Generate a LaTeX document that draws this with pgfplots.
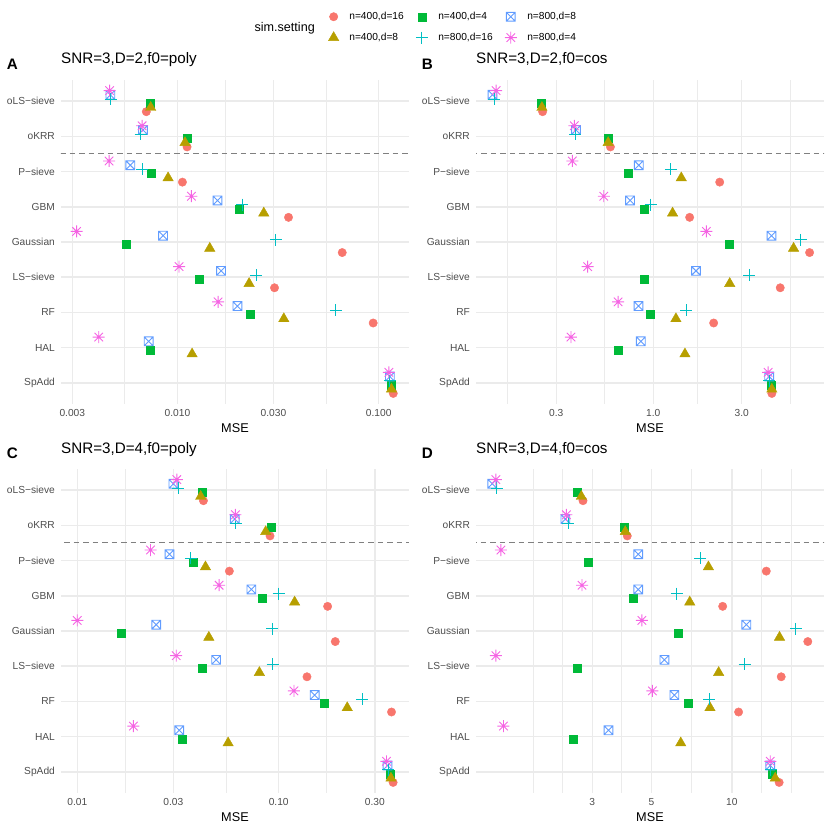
\documentclass[border=0pt]{standalone}
\usepackage{fontspec}
\setmainfont{Liberation Sans}
\usepackage{pgfplots}
\usepackage{pgfplotstable}
\pgfplotsset{compat=1.18}

\definecolor{c1}{HTML}{F8766D}
\definecolor{c2}{HTML}{B79F00}
\definecolor{c3}{HTML}{00BA38}
\definecolor{c4}{HTML}{00BFC4}
\definecolor{c5}{HTML}{619CFF}
\definecolor{c6}{HTML}{F564E3}
\definecolor{gridc}{HTML}{EBEBEB}
\definecolor{txt}{HTML}{4D4D4D}

% ggplot shape 7 (square with x) and shape 8 (eight-arm asterisk)
\pgfdeclareplotmark{boxx}{%
  \pgfpathrectangle{\pgfpoint{-\pgfplotmarksize}{-\pgfplotmarksize}}{\pgfpoint{2\pgfplotmarksize}{2\pgfplotmarksize}}%
  \pgfpathmoveto{\pgfpoint{-\pgfplotmarksize}{-\pgfplotmarksize}}\pgfpathlineto{\pgfpoint{\pgfplotmarksize}{\pgfplotmarksize}}%
  \pgfpathmoveto{\pgfpoint{-\pgfplotmarksize}{\pgfplotmarksize}}\pgfpathlineto{\pgfpoint{\pgfplotmarksize}{-\pgfplotmarksize}}%
  \pgfusepathqstroke}
\pgfdeclareplotmark{ast8}{%
  \pgfpathmoveto{\pgfpointpolar{0}{\pgfplotmarksize}}\pgfpathlineto{\pgfpointpolar{180}{\pgfplotmarksize}}%
  \pgfpathmoveto{\pgfpointpolar{90}{\pgfplotmarksize}}\pgfpathlineto{\pgfpointpolar{270}{\pgfplotmarksize}}%
  \pgfpathmoveto{\pgfpointpolar{45}{\pgfplotmarksize}}\pgfpathlineto{\pgfpointpolar{225}{\pgfplotmarksize}}%
  \pgfpathmoveto{\pgfpointpolar{135}{\pgfplotmarksize}}\pgfpathlineto{\pgfpointpolar{315}{\pgfplotmarksize}}%
  \pgfusepathqstroke}

% columns: m = method row; a n=400,d=16; b n=400,d=8; c n=400,d=4; d n=800,d=16; e n=800,d=8; f n=800,d=4
\pgfplotstableread{
m a b c d e f
1 0.0070 0.00736 0.00728 0.00465 0.00464 0.0046
2 0.01116 0.0109 0.0112 0.00656 0.00674 0.00667
3 0.01058 0.00898 0.00742 0.00667 0.00583 0.00457
4 0.03564 0.02685 0.02025 0.02103 0.0158 0.01173
5 0.0659 0.01447 0.00559 0.0308 0.00848 0.00315
6 0.03036 0.0227 0.0128 0.0247 0.01647 0.01018
7 0.0939 0.03377 0.02304 0.0613 0.01986 0.01591
8 nan 0.01182 0.00728 nan 0.00719 0.00406
9 0.1182 0.1158 0.1158 0.1137 0.1137 0.1124
}\dataA
\pgfplotstableread{
m a b c d e f
1 0.2531 0.251 0.2489 0.1392 0.1358 0.1422
2 0.5875 0.571 0.5685 0.380 0.383 0.3753
3 2.282 1.416 0.732 1.245 0.836 0.366
4 1.571 1.271 0.893 0.967 0.750 0.541
5 6.966 5.709 2.574 6.25 4.341 1.933
6 4.837 2.584 0.890 3.30 1.70 0.443
7 2.117 1.325 0.962 1.507 0.8326 0.646
8 nan 1.482 0.649 nan 0.857 0.360
9 4.359 4.359 4.305 4.216 4.216 4.164
}\dataB
\pgfplotstableread{
m a b c d e f
1 0.0423 0.0410 0.0415 0.0318 0.0300 0.0312
2 0.0906 0.0862 0.0923 0.0612 0.0605 0.0610
3 0.0569 0.0433 0.0375 0.0366 0.0287 0.0231
4 0.175 0.120 0.0824 0.100 0.0732 0.0506
5 0.191 0.0450 0.01646 0.0927 0.02465 0.0100
6 0.1382 0.0802 0.0415 0.0934 0.0489 0.0310
7 0.3633 0.219 0.1678 0.260 0.1509 0.1191
8 nan 0.0561 0.0332 nan 0.0321 0.0190
9 0.370 0.361 0.357 0.350 0.347 0.343
}\dataC
\pgfplotstableread{
m a b c d e f
1 2.768 2.729 2.644 1.313 1.265 1.305
2 4.056 3.987 3.942 2.433 2.378 2.399
3 13.46 8.17 2.907 7.62 4.458 1.363
4 9.24 6.955 4.257 6.22 4.458 2.745
5 19.26 15.09 6.27 17.36 11.33 4.60
6 15.31 8.925 2.644 11.17 5.59 1.305
7 10.6 8.28 6.876 8.24 6.09 5.04
8 nan 6.435 2.54 nan 3.45 1.394
9 15.04 14.54 14.21 14.0 13.93 13.93
}\dataD

\pgfplotsset{every axis/.append style={
    scale only axis, width=348pt, height=324pt,
    y dir=reverse, ymin=0.4, ymax=9.6,
    ytick={1,2,3,4,5,6,7,8,9},
    yticklabels={oLS−sieve,oKRR,P−sieve,GBM,Gaussian,LS−sieve,RF,HAL,SpAdd},
    axis line style={draw=none}, tick style={draw=none},
    major tick length=0pt, minor tick length=0pt,
    xmajorgrids, ymajorgrids, xminorgrids,
    major grid style={color=gridc, line width=1.5pt},
    minor grid style={color=gridc, line width=0.9pt},
    tick label style={color=txt, font=\fontsize{10.2}{12}\selectfont},
    xticklabel style={yshift=-1.6pt}, yticklabel style={xshift=-2.6pt},
    xlabel={MSE},
    xlabel style={font=\fontsize{12.7}{15}\selectfont, at={(0.5,0)}, anchor=base, yshift=-28.3pt},
    title style={font=\fontsize{15.2}{18}\selectfont, at={(0,1)}, anchor=base west, inner sep=0pt, yshift=10pt},
}}

\newcommand{\sixseries}[1]{%
  \addplot[forget plot, color=gray, line width=1pt, dash pattern=on 5.5pt off 4pt] coordinates {(1e-4,2.5) (1e3,2.5)};
  \addplot[only marks, mark=*, color=c1, mark size=4.2pt] table[x=a, y expr=\thisrow{m}+0.3]{#1};
  \addplot[only marks, mark=square*, color=c3, mark size=4pt] table[x=c, y expr=\thisrow{m}+0.06]{#1};
  \addplot[only marks, mark=boxx, color=c5, mark size=4.4pt, mark options={line width=0.9pt}] table[x=e, y expr=\thisrow{m}-0.18]{#1};
  \addplot[only marks, mark=triangle*, color=c2, mark size=6pt] table[x=b, y expr=\thisrow{m}+0.18]{#1};
  \addplot[only marks, mark=+, color=c4, mark size=6pt, mark options={line width=0.9pt}] table[x=d, y expr=\thisrow{m}-0.06]{#1};
  \addplot[only marks, mark=ast8, color=c6, mark size=6pt, mark options={line width=0.9pt}] table[x=f, y expr=\thisrow{m}-0.3]{#1};
}

\begin{document}
\begin{tikzpicture}
\draw[white, line width=0pt] (0pt,0pt) rectangle (830pt,830pt);

\begin{axis}[xmode=log, at={(61pt,426pt)}, anchor=south west,
  title={SNR=3,D=2,f0=poly},
  xmin=0.002636, xmax=0.1415,
  xtick={0.003,0.01,0.03,0.1}, xticklabels={0.003,0.010,0.030,0.100},
  minor xtick={0.005477,0.01732,0.05477},
  legend columns=3,
  legend cell align=left,
  legend style={draw=none, fill=none, inner sep=0pt,
    at={(0.768,1.1630)}, anchor=west,
    font=\fontsize{10.2}{12}\selectfont,
    /tikz/every odd column/.append style={column sep=8.5pt},
    /tikz/every even column/.append style={column sep=10pt},
    row sep=8pt},
]
\sixseries{\dataA}
\legend{{n=400,d=16},{n=400,d=4},{n=800,d=8},{n=400,d=8},{n=800,d=16},{n=800,d=4}}
\end{axis}

\begin{axis}[xmode=log, at={(476pt,426pt)}, anchor=south west,
  title={SNR=3,D=2,f0=cos},
  xmin=0.1107, xmax=8.33,
  xtick={0.3,1,3}, xticklabels={0.3,1.0,3.0},
  minor xtick={0.164,0.5477,1.732,5.477},
]
\sixseries{\dataB}
\end{axis}

\begin{axis}[xmode=log, at={(61pt,37pt)}, anchor=south west,
  title={SNR=3,D=4,f0=poly},
  xmin=0.0083, xmax=0.4437,
  xtick={0.01,0.03,0.1,0.3}, xticklabels={0.01,0.03,0.10,0.30},
  minor xtick={0.01732,0.05477,0.1732},
]
\sixseries{\dataC}
\end{axis}

\begin{axis}[xmode=log, at={(476pt,37pt)}, anchor=south west,
  title={SNR=3,D=4,f0=cos},
  xmin=1.0996, xmax=22.15,
  xtick={3,5,10}, xticklabels={3,5,10},
  minor xtick={1.8,2.324,3.873,7.071,12.91,16.67},
]
\sixseries{\dataD}
\end{axis}

\node[anchor=base west, inner sep=0pt, font=\bfseries\fontsize{15.2}{18}\selectfont] at (6.7pt,760pt) {A};
\node[anchor=base west, inner sep=0pt, font=\bfseries\fontsize{15.2}{18}\selectfont] at (421.7pt,760pt) {B};
\node[anchor=base west, inner sep=0pt, font=\bfseries\fontsize{15.2}{18}\selectfont] at (6.7pt,371pt) {C};
\node[anchor=base west, inner sep=0pt, font=\bfseries\fontsize{15.2}{18}\selectfont] at (421.7pt,371pt) {D};
\node[anchor=base east, inner sep=0pt, font=\fontsize{12.6}{15}\selectfont] at (315pt,798.5pt) {sim.setting};
\end{tikzpicture}
\end{document}
